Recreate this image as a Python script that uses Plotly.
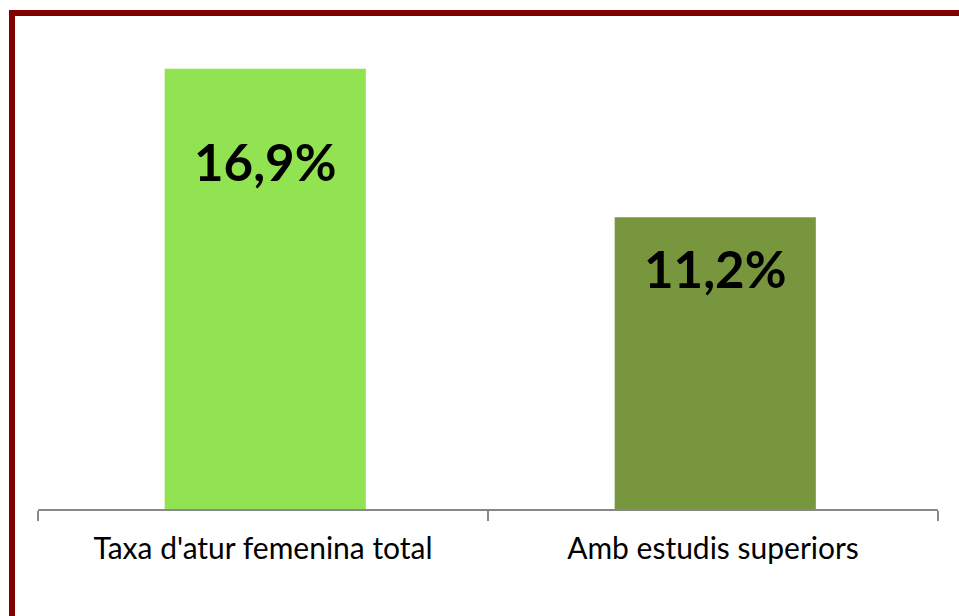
import plotly.graph_objects as go

categories = ["Taxa d'atur femenina total", "Amb estudis superiors"]
values = [16.9, 11.2]
labels = ["16,9%", "11,2%"]
colors = ["#92E351", "#78963D"]
label_shift = [-93, -51]

BW = 0.447
fig = go.Figure()
fig.add_trace(go.Bar(x=categories, y=values, marker=dict(color=colors, line=dict(width=0)),
                     width=BW, offset=-BW / 2 + 0.005, hoverinfo="skip"))

for c, v, t, s in zip(categories, values, labels, label_shift):
    fig.add_annotation(x=c, y=v, text="<b>%s</b>" % t, showarrow=False, yshift=s, xshift=2,
                       font=dict(family="Lato", size=51, color="#000000"))

W, H = 959, 616
L, R, T, B = 38, 21, 40, 107
pw, ph = W - L - R, H - T - B
def px(x): return (x - L) / pw
def py(y): return (H - B - y) / ph
fig.add_shape(type="path", xref="paper", yref="paper",
              path="M %f %f L %f %f L %f %f" % (px(12), py(660), px(12), py(13), px(1000), py(13)),
              line=dict(color="#800000", width=6))

fig.update_layout(
    width=W, height=H, margin=dict(l=L, r=R, t=T, b=B),
    paper_bgcolor="white", plot_bgcolor="white", showlegend=False,
    xaxis=dict(showline=True, linecolor="#888888", linewidth=2, ticks="outside",
               tickson="boundaries", ticklen=10, tickwidth=2, tickcolor="#888888",
               ticklabelstandoff=12,
               showgrid=False, tickfont=dict(family="Lato", size=30, color="#000000")),
    yaxis=dict(range=[0, 18], visible=False, showgrid=False, fixedrange=True),
)
fig.write_html("out.html", config={"displayModeBar": False, "staticPlot": True},
               post_script="document.body.style.margin='0';document.body.style.overflow='hidden';")
